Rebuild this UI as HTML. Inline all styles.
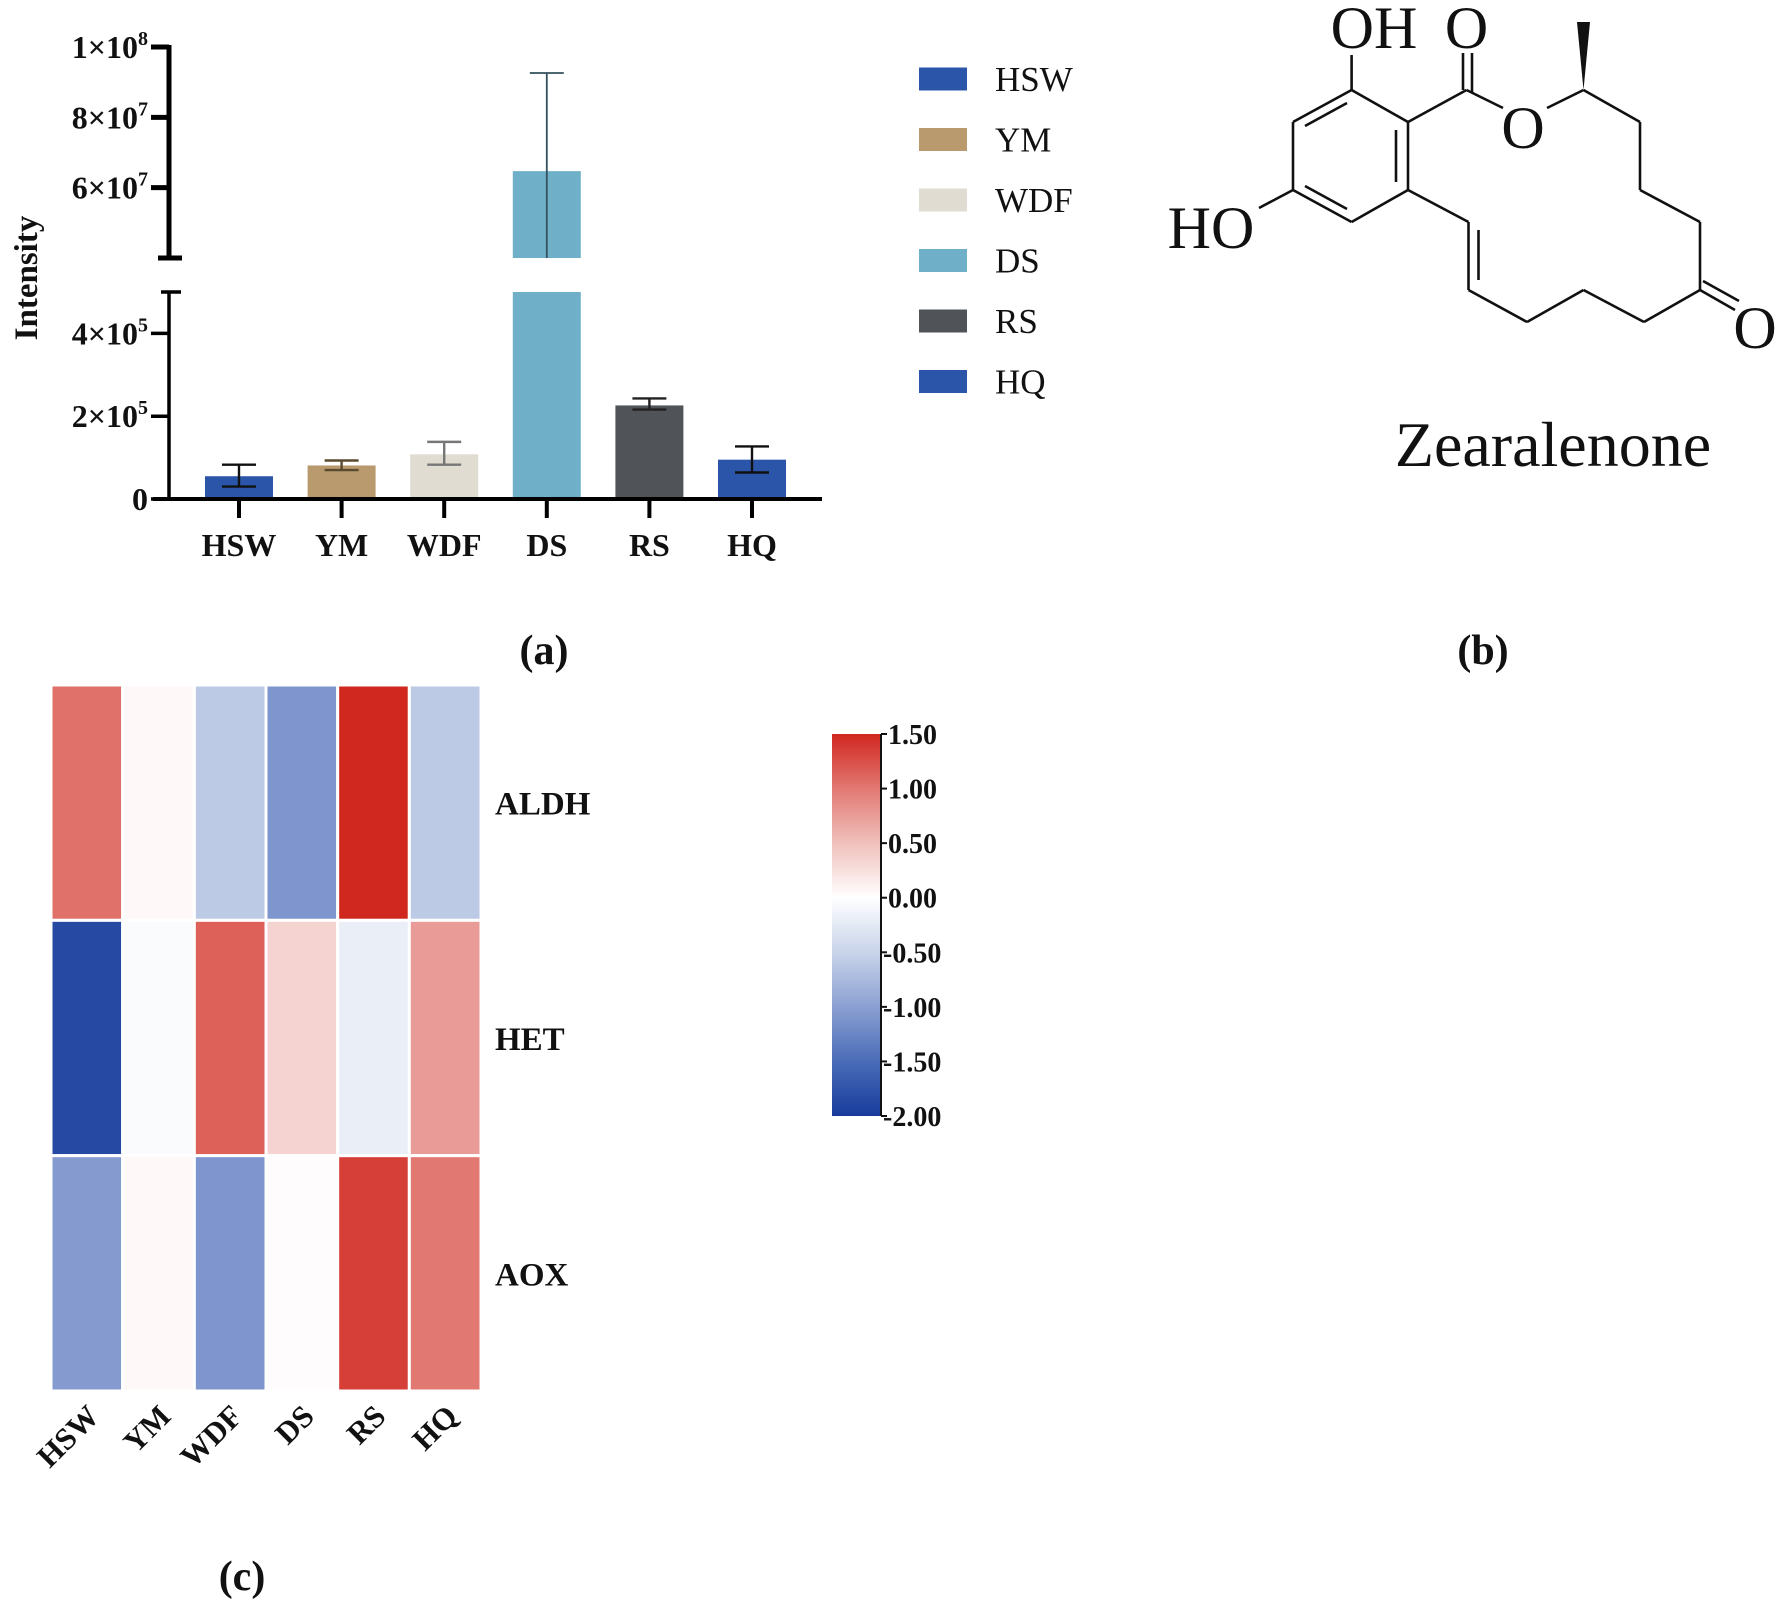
<!DOCTYPE html>
<html><head><meta charset="utf-8">
<style>
html,body{margin:0;padding:0;background:#fff;}
svg{display:block;font-family:"Liberation Serif",serif;}
</style></head>
<body>
<svg id="root" width="1778" height="1604" viewBox="0 0 1778 1604" xmlns="http://www.w3.org/2000/svg">
<g id="bar-chart"></g>
<g id="legend"></g>
<g id="molecule" stroke="#111" stroke-width="2.6" fill="none">
  <line x1="1351.6" y1="90" x2="1293" y2="122"/>
  <line x1="1293" y1="122" x2="1293" y2="190"/>
  <line x1="1293" y1="190" x2="1351.6" y2="222"/>
  <line x1="1351.6" y1="222" x2="1408" y2="190"/>
  <line x1="1408" y1="190" x2="1408" y2="122"/>
  <line x1="1408" y1="122" x2="1351.6" y2="90"/>
  <line x1="1347" y1="103" x2="1305" y2="126"/>
  <line x1="1305" y1="186" x2="1347" y2="209"/>
  <line x1="1396" y1="130" x2="1396" y2="182"/>
  <line x1="1351.6" y1="90" x2="1351.6" y2="55"/>
  <line x1="1293" y1="190" x2="1259" y2="208"/>
  <line x1="1408" y1="122" x2="1466.5" y2="90"/>
  <line x1="1463" y1="90" x2="1463" y2="53"/>
  <line x1="1472" y1="92" x2="1472" y2="53"/>
  <line x1="1466.5" y1="90" x2="1503" y2="108"/>
  <line x1="1547" y1="108" x2="1583.5" y2="90"/>
  <line x1="1583.5" y1="90" x2="1640" y2="122"/>
  <line x1="1640" y1="122" x2="1640" y2="190"/>
  <line x1="1640" y1="190" x2="1700" y2="222"/>
  <line x1="1700" y1="222" x2="1700" y2="290"/>
  <line x1="1700" y1="290" x2="1735" y2="310"/>
  <line x1="1703" y1="281" x2="1739" y2="301"/>
  <line x1="1700" y1="290" x2="1644" y2="322"/>
  <line x1="1644" y1="322" x2="1583.5" y2="290"/>
  <line x1="1583.5" y1="290" x2="1527" y2="322"/>
  <line x1="1527" y1="322" x2="1468.5" y2="290"/>
  <line x1="1468.5" y1="290" x2="1468.5" y2="222"/>
  <line x1="1478.5" y1="280" x2="1478.5" y2="230"/>
  <line x1="1468.5" y1="222" x2="1408" y2="190"/>
  <polygon points="1583.5,90 1577,22 1590,22" fill="#111" stroke="none"/>
  <g fill="#111" stroke="none" font-size="60" text-anchor="middle">
    <text x="1374" y="48">OH</text>
    <text x="1211" y="248">HO</text>
    <text x="1466.5" y="48">O</text>
    <text x="1523" y="148">O</text>
    <text x="1755" y="348">O</text>
  </g>
</g>
<text x="1553" y="466" font-size="64" text-anchor="middle" fill="#111">Zearalenone</text>
<text x="544" y="664" font-size="42" font-weight="bold" text-anchor="middle" fill="#111">(a)</text>
<text x="1483" y="664" font-size="42" font-weight="bold" text-anchor="middle" fill="#111">(b)</text>
<text x="242" y="1590" font-size="42" font-weight="bold" text-anchor="middle" fill="#111">(c)</text>
<g id="heatmap"></g>
<g id="colorbar"></g>
</svg>
<script>
const NS = "http://www.w3.org/2000/svg";
// ---- Bar chart data ----
const categories = ["HSW","YM","WDF","DS","RS","HQ"];
const barValues = [55000, 81000, 108000, 64700000, 226000, 95000];
const errHigh = [83000, 93000, 138000, 92600000, 243000, 127000];
const errLow = [30000, 70000, 83000, 40000000, 216000, 64000];
const barColors = ["#2b55a8","#b89a6e","#e0dcd2","#6fb0c8","#505358","#2b55a8"];
const errColors = ["#111","#5a4a30","#777","#34505c","#222","#111"];
const lowerTicks = [0, 200000, 400000];
const lowerTickLabels = [["0",""],["2×10","5"],["4×10","5"]];
const upperTicks = [60000000, 80000000, 100000000];
const upperTickLabels = [["6×10","7"],["8×10","7"],["1×10","8"]];
// ---- Heatmap data ----
const hmCols = ["HSW","YM","WDF","DS","RS","HQ"];
const hmRows = ["ALDH","HET","AOX"];
const hmALDH = [1.05, 0.05, -0.6, -1.1, 1.5, -0.6];
const hmHET = [-1.85, -0.05, 1.15, 0.35, -0.2, 0.75];
const hmAOX = [-1.05, 0.05, -1.1, 0.02, 1.35, 1.0];
const cbTicks = [1.5, 1.0, 0.5, 0.0, -0.5, -1.0, -1.5, -2.0];

function el(tag, attrs, parent){const e=document.createElementNS(NS,tag);for(const k in attrs)e.setAttribute(k,attrs[k]);parent.appendChild(e);return e;}

const X0=153, X1=822, BAR0=239, BARSTEP=102.6, BARW=68;
const LOW_BOT=499, LOW_TOP=292, LOW_MAX=500000;
const UP_BOT=258, UP_TOP=47, UP_MIN=40000000, UP_MAX=100000000;
function xCenter(i){return BAR0+i*BARSTEP;}
function yScale(v){
  if(v<=LOW_MAX) return LOW_BOT-(v/LOW_MAX)*(LOW_BOT-LOW_TOP);
  return UP_BOT-(v-UP_MIN)/(UP_MAX-UP_MIN)*(UP_BOT-UP_TOP);
}
const bc=document.getElementById('bar-chart');
const AX=169;
categories.forEach((c,i)=>{
  const cx=xCenter(i), v=barValues[i];
  if(v>LOW_MAX){
    const r1=el('rect',{x:cx-BARW/2,y:LOW_TOP,width:BARW,height:LOW_BOT-LOW_TOP,fill:barColors[i]},bc);
    
    
    const yt=yScale(v);
    const r2=el('rect',{x:cx-BARW/2,y:yt,width:BARW,height:UP_BOT-yt,fill:barColors[i]},bc);
    
    
  } else {
    const yt=yScale(v);
    const r=el('rect',{x:cx-BARW/2,y:yt,width:BARW,height:LOW_BOT-yt,fill:barColors[i]},bc);
    
    
  }
  const yh=yScale(errHigh[i]), yl=yScale(errLow[i]);
  const g=el('g',{stroke:errColors[i],'stroke-width':v>LOW_MAX?1.8:2.4},bc);
  
  
  el('line',{x1:cx,y1:yh,x2:cx,y2:yl},g);
  el('line',{x1:cx-17,y1:yh,x2:cx+17,y2:yh},g);
  if(v<=LOW_MAX) el('line',{x1:cx-17,y1:yl,x2:cx+17,y2:yl},g);
  const t=el('line',{x1:cx,y1:LOW_BOT,x2:cx,y2:518,stroke:'#000','stroke-width':4},bc);
  
  
  const lb=el('text',{x:cx,y:556,'font-size':32,'font-weight':'bold','text-anchor':'middle',fill:'#111'},bc);
  lb.textContent=c;
  
  
});
const xa=el('line',{x1:X0,y1:LOW_BOT,x2:X1,y2:LOW_BOT,stroke:'#000','stroke-width':4},bc);


const ya1=el('line',{x1:AX,y1:LOW_TOP,x2:AX,y2:LOW_BOT,stroke:'#000','stroke-width':3.5},bc);


el('line',{x1:161,y1:LOW_TOP,x2:181,y2:LOW_TOP,stroke:'#000','stroke-width':3.5},bc);
const ya2=el('line',{x1:AX,y1:UP_TOP-2,x2:AX,y2:UP_BOT,stroke:'#000','stroke-width':5},bc);


el('line',{x1:158,y1:UP_BOT,x2:182,y2:UP_BOT,stroke:'#000','stroke-width':5},bc);
function yTick(v,lab,w){
  const y=yScale(v);
  el('line',{x1:151,y1:y,x2:AX,y2:y,stroke:'#000','stroke-width':w},bc);
  const t=el('text',{x:148,y:y+11,'font-size':32,'font-weight':'bold','text-anchor':'end',fill:'#111'},bc);
  
  
  t.appendChild(document.createTextNode(lab[0]));
  if(lab[1]){const s=el('tspan',{dy:-13,'font-size':20},t);s.textContent=lab[1];}
}
lowerTicks.forEach((v,i)=>yTick(v,lowerTickLabels[i],3.5));
upperTicks.forEach((v,i)=>yTick(v,upperTickLabels[i],5));
const yt=el('text',{x:0,y:0,'font-size':33,'font-weight':'bold','text-anchor':'middle',fill:'#111',transform:'translate(37,278) rotate(-90)'},bc);
yt.textContent='Intensity';



const lg=document.getElementById('legend');
categories.forEach((c,i)=>{
  const y=79+i*60.5;
  const r=el('rect',{x:919,y:y-11.5,width:48,height:23,fill:barColors[i]},lg);
  
  
  const t=el('text',{x:995,y:y+12,'font-size':35,fill:'#111'},lg);
  t.textContent=c;
  
  
});

const stops=[[-2,[23,60,156]],[-1.5,[74,108,184]],[-1,[139,160,210]],[-0.5,[201,212,234]],[0,[255,255,255]],[0.5,[240,192,188]],[1,[226,120,114]],[1.5,[208,39,31]]];
function cmap(v){
  v=Math.max(-2,Math.min(1.5,v));
  for(let i=0;i<stops.length-1;i++){
    const a=stops[i],b=stops[i+1];
    if(v>=a[0]&&v<=b[0]){const t=(v-a[0])/(b[0]-a[0]);const c=a[1].map((x,k)=>Math.round(x+(b[1][k]-x)*t));return 'rgb('+c.join(',')+')';}
  }
  return '#fff';
}
const hm=document.getElementById('heatmap');
const HX0=51, HX1=481, HY0=685, HY1=1391;
const cw=(HX1-HX0)/hmCols.length, rh=(HY1-HY0)/hmRows.length;
const hmData=[hmALDH,hmHET,hmAOX];
hmRows.forEach((r,ri)=>{
  hmCols.forEach((c,ci)=>{
    const rc=el('rect',{x:HX0+ci*cw,y:HY0+ri*rh,width:cw,height:rh,fill:cmap(hmData[ri][ci]),stroke:'#fff','stroke-width':3},hm);
    
    
  });
  const t=el('text',{x:495,y:HY0+(ri+0.5)*rh+12,'font-size':33,'font-weight':'bold',fill:'#111'},hm);
  t.textContent=r;
  
  
});
hmCols.forEach((c,ci)=>{
  const cx=HX0+(ci+0.5)*cw+14;
  const t=el('text',{x:0,y:0,'font-size':31,'font-weight':'bold','text-anchor':'end',fill:'#111',transform:'translate('+cx+',1418) rotate(-45)'},hm);
  t.textContent=c;
  
  
});

const cb=document.getElementById('colorbar');
const CBX=832, CBW=49, CBT=734, CBB=1116;
const defs=el('defs',{},cb);
const gr=el('linearGradient',{id:'cbg',x1:0,y1:0,x2:0,y2:1},defs);
stops.slice().reverse().forEach(s=>{el('stop',{offset:((1.5-s[0])/3.5),'stop-color':'rgb('+s[1].join(',')+')'},gr);});
const cr=el('rect',{x:CBX,y:CBT,width:CBW,height:CBB-CBT,fill:'url(#cbg)'},cb);


el('line',{x1:CBX+CBW,y1:CBT,x2:CBX+CBW,y2:CBB,stroke:'#111','stroke-width':2},cb);
function cbY(v){return CBT+(1.5-v)/3.5*(CBB-CBT);}
cbTicks.forEach(v=>{
  const y=cbY(v);
  el('line',{x1:CBX+CBW,y1:y,x2:CBX+CBW+6,y2:y,stroke:'#111','stroke-width':2},cb);
  const t=el('text',{x:CBX+CBW+(v<0?2:7),y:y+10,'font-size':28,'font-weight':'bold',fill:'#111'},cb);
  t.textContent=v.toFixed(2);
  
  
});
</script>
</body></html>
